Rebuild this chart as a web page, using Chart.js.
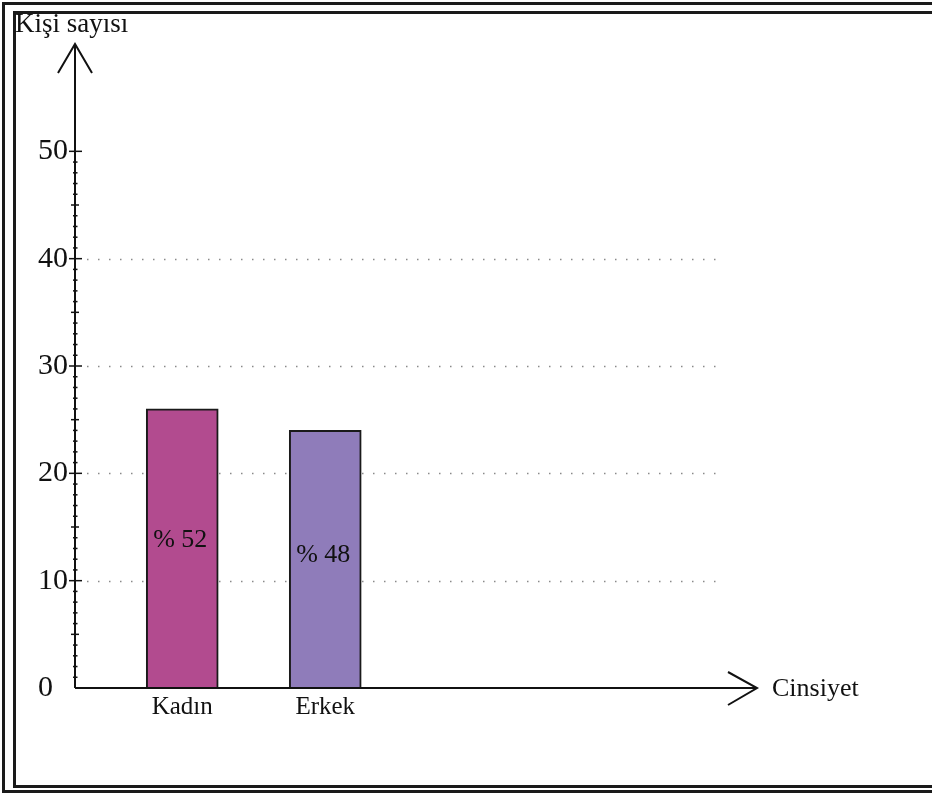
<!DOCTYPE html>
<html>
<head>
<meta charset="utf-8">
<script src="https://cdn.jsdelivr.net/npm/chart.js@4/dist/chart.umd.min.js"></script>
<style>
  html, body { margin: 0; padding: 0; background: #ffffff; }
  #wrap { width: 932px; height: 794px; position: relative; }
</style>
</head>
<body>
<div id="wrap"><canvas id="c" width="932" height="794"></canvas></div>
<script>
// ---- data ----
const categories = ['Kadın', 'Erkek'];
const categoryPositions = [1, 2];
const counts = [26, 24];
const percentLabels = ['% 52', '% 48'];
const barColors = ['#b24b8f', '#8f7cba'];
const yTickValues = [0, 10, 20, 30, 40, 50];
const gridValues = [10, 20, 30, 40];
const yAxisTitle = 'Kişi sayısı';
const xAxisTitle = 'Cinsiyet';

const FONT = '"Liberation Serif", "Times New Roman", serif';

const framePlugin = {
  id: 'frame',
  beforeDraw(chart) {
    const ctx = chart.ctx;
    ctx.save();
    ctx.fillStyle = '#ffffff';
    ctx.fillRect(0, 0, chart.width, chart.height);
    ctx.strokeStyle = '#1a1a1a';
    ctx.lineWidth = 3;
    ctx.beginPath();
    ctx.moveTo(chart.width + 10, 3.5);
    ctx.lineTo(3.5, 3.5);
    ctx.lineTo(3.5, 791.5);
    ctx.lineTo(chart.width + 10, 791.5);
    ctx.stroke();
    ctx.beginPath();
    ctx.moveTo(chart.width + 10, 12.5);
    ctx.lineTo(14.5, 12.5);
    ctx.lineTo(14.5, 786.5);
    ctx.lineTo(chart.width + 10, 786.5);
    ctx.stroke();
    ctx.restore();
  }
};

const axesPlugin = {
  id: 'axesDecor',
  beforeDatasetsDraw(chart) {
    const ctx = chart.ctx;
    const ys = chart.scales.y;
    const area = chart.chartArea;
    ctx.save();
    ctx.strokeStyle = '#8a8a8a';
    ctx.lineWidth = 1.5;
    ctx.setLineDash([1.5, 9.5]);
    gridValues.forEach(v => {
      const y = Math.round(ys.getPixelForValue(v)) + 0.5;
      ctx.beginPath();
      ctx.moveTo(area.left + 12, y);
      ctx.lineTo(area.right, y);
      ctx.stroke();
    });
    ctx.setLineDash([]);
    ctx.restore();
  },
  afterDraw(chart) {
    const ctx = chart.ctx;
    const ys = chart.scales.y;
    const area = chart.chartArea;
    const x0 = area.left;
    const y0 = ys.getPixelForValue(0);
    ctx.save();
    ctx.strokeStyle = '#111';
    ctx.lineWidth = 2;
    ctx.beginPath();
    ctx.moveTo(x0, y0);
    ctx.lineTo(x0, area.top);
    ctx.stroke();
    ctx.beginPath();
    ctx.moveTo(x0 - 17, area.top + 29);
    ctx.lineTo(x0, area.top);
    ctx.lineTo(x0 + 17, area.top + 29);
    ctx.stroke();
    const xEnd = 757;
    ctx.beginPath();
    ctx.moveTo(x0, y0);
    ctx.lineTo(xEnd, y0);
    ctx.stroke();
    ctx.beginPath();
    ctx.moveTo(xEnd - 29, y0 - 16);
    ctx.lineTo(xEnd, y0);
    ctx.lineTo(xEnd - 29, y0 + 17);
    ctx.stroke();
    ctx.lineWidth = 1.5;
    for (let v = 1; v <= 50; v++) {
      const y = ys.getPixelForValue(v);
      let l = 2, r = 2.5;
      if (v % 10 === 0) { l = 6; r = 7; }
      else if (v % 5 === 0) { l = 4; r = 4; }
      ctx.beginPath();
      ctx.moveTo(x0 - l, y);
      ctx.lineTo(x0 + r, y);
      ctx.stroke();
    }
    ctx.fillStyle = '#111';
    ctx.textBaseline = 'middle';
    ctx.textAlign = 'left';
    ctx.font = '27px ' + FONT;
    ctx.fillText(yAxisTitle, 15, 25);
    ctx.font = '26px ' + FONT;
    ctx.fillText(xAxisTitle, 772, 689);
    ctx.textAlign = 'center';
    ctx.font = '26px ' + FONT;
    const meta = chart.getDatasetMeta(0);
    meta.data.forEach((bar, i) => {
      const mid = (bar.y + bar.base) / 2;
      const offset = i === 0 ? -8 : -4;
      ctx.fillText(percentLabels[i], bar.x - 2, mid + offset);
    });
    ctx.restore();
  }
};

new Chart(document.getElementById('c'), {
  type: 'bar',
  data: {
    datasets: [{
      data: categoryPositions.map((p, i) => ({ x: p, y: counts[i] })),
      backgroundColor: barColors,
      borderColor: '#1a1a1a',
      borderWidth: 2,
      borderSkipped: 'bottom',
      barThickness: 72
    }]
  },
  options: {
    responsive: false,
    animation: false,
    devicePixelRatio: 1,
    layout: { padding: { left: 0, top: 44, right: 932 - 722, bottom: 0 } },
    plugins: { legend: { display: false }, tooltip: { enabled: false } },
    scales: {
      x: {
        type: 'linear',
        offset: false,
        bounds: 'data',
        min: 0.25,
        max: 0.25 + 647 / 143,
        afterBuildTicks: s => { s.ticks = categoryPositions.map(v => ({ value: v })); },
        afterFit: s => { s.height = 794 - 688; },
        grid: { display: false, drawTicks: false, offset: false },
        border: { display: false },
        ticks: {
          callback: v => categories[categoryPositions.indexOf(v)] || '',
          color: '#111',
          font: { family: FONT, size: 25 },
          padding: 4,
          maxRotation: 0,
          autoSkip: false
        }
      },
      y: {
        min: 0,
        max: 60,
        afterBuildTicks: s => { s.ticks = yTickValues.map(v => ({ value: v })); },
        afterFit: s => { s.width = 75; },
        grid: { display: false, drawTicks: false },
        border: { display: false },
        ticks: {
          callback: v => v === 0 ? '0\u2002' : String(v),
          color: '#111',
          font: { family: FONT, size: 30 },
          padding: 7
        }
      }
    }
  },
  plugins: [framePlugin, axesPlugin]
});
</script>
</body>
</html>
